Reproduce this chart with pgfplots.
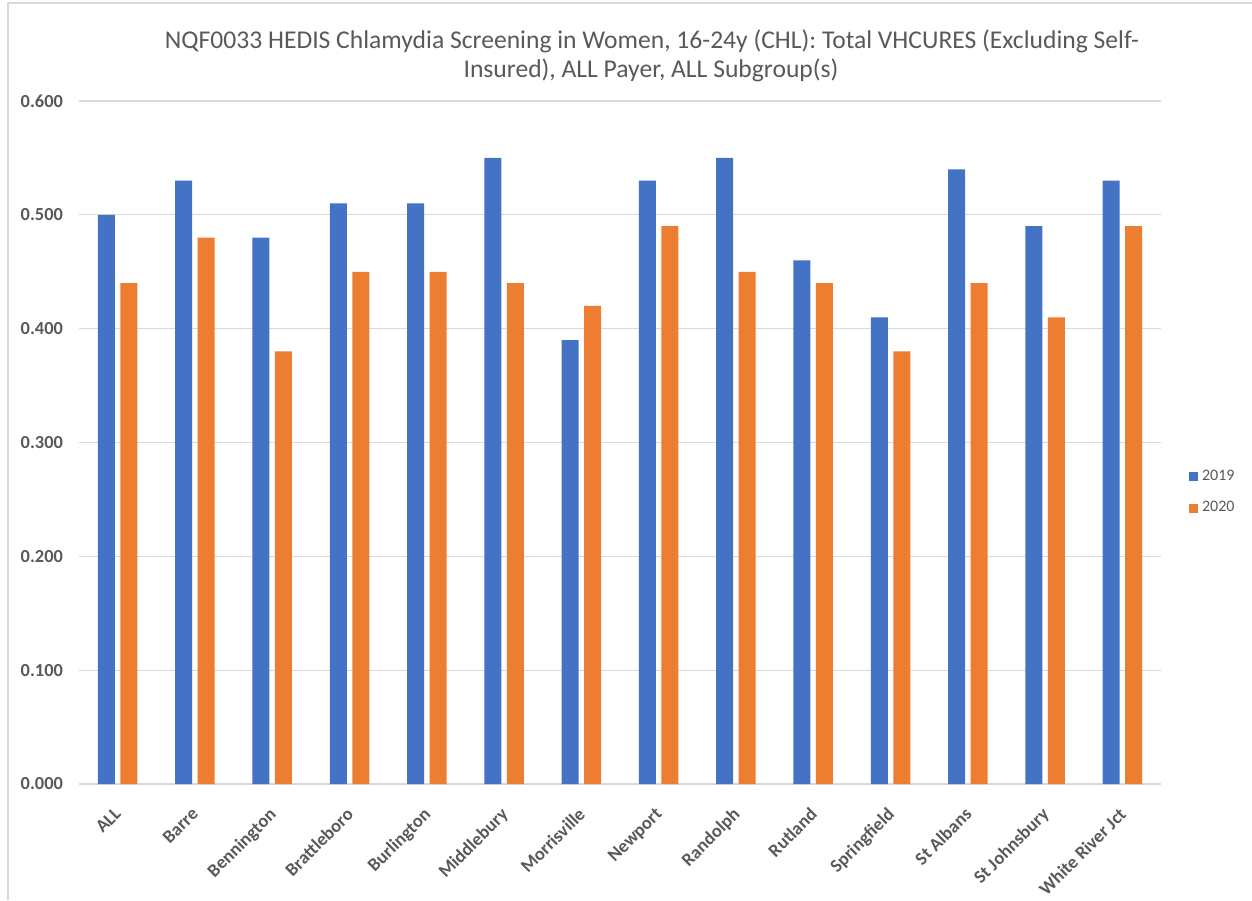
\documentclass[border=0pt]{standalone}
\usepackage{pgfplots}
\pgfplotsset{compat=1.18}
\usepackage{fontspec}
\setmainfont{Carlito}
\definecolor{cblue}{HTML}{4472C4}
\definecolor{corange}{HTML}{ED7D31}
\definecolor{tgray}{HTML}{595959}
\definecolor{ggray}{HTML}{D9D9D9}
\begin{document}
\begin{tikzpicture}
\useasboundingbox (0,0) rectangle (626pt,450pt);
\draw[ggray, line width=0.6pt] (4pt,0) -- (4pt,448.5pt) -- (626pt,448.5pt);
\node[text=tgray, font=\fontsize{12.8}{14}\selectfont] at (326pt,429.5pt) {NQF0033 HEDIS Chlamydia Screening in Women, 16-24y (CHL): Total VHCURES (Excluding Self-};
\node[text=tgray, font=\fontsize{12.8}{14}\selectfont] at (325.5pt,415pt) {Insured), ALL Payer, ALL Subgroup(s)};
\begin{axis}[
  at={(39.5pt,58pt)}, anchor=south west,
  scale only axis, width=541pt, height=341.5pt,
  xmin=-0.5, xmax=13.5, ymin=0, ymax=0.6,
  ybar=2.75pt, bar width=8.5pt,
  axis line style={draw=none},
  major tick length=0pt,
  ymajorgrids, grid style={ggray, line width=0.6pt},
  ytick={0,0.1,0.2,0.3,0.4,0.5,0.6},
  ticklabel style={font=\bfseries\fontsize{9.2}{10}\selectfont, text=tgray},
  yticklabel style={xshift=-4.5pt, /pgf/number format/.cd, fixed, fixed zerofill, precision=3, assume math mode=true},
  xtick={0,...,13},
  xticklabels={ALL,Barre,Bennington,Brattleboro,Burlington,Middlebury,Morrisville,Newport,Randolph,Rutland,Springfield,St Albans,St Johnsbury,White River Jct},
  xticklabel style={rotate=45, anchor=north east, inner sep=1pt, yshift=-5.3pt, xshift=-8.3pt, font=\bfseries\fontsize{9.2}{10}\selectfont},
  legend style={at={(1.02,0.427)}, anchor=west, draw=none, fill=none, font=\fontsize{8}{9.6}\selectfont, text=tgray, row sep=5pt, legend cell align=left},
  legend image code/.code={\fill[#1] (0pt,-2.25pt) rectangle (4.5pt,2.25pt);},
]
\addplot[fill=cblue, draw=none] coordinates {(0,0.50) (1,0.53) (2,0.48) (3,0.51) (4,0.51) (5,0.55) (6,0.39) (7,0.53) (8,0.55) (9,0.46) (10,0.41) (11,0.54) (12,0.49) (13,0.53)};
\addplot[fill=corange, draw=none] coordinates {(0,0.44) (1,0.48) (2,0.38) (3,0.45) (4,0.45) (5,0.44) (6,0.42) (7,0.49) (8,0.45) (9,0.44) (10,0.38) (11,0.44) (12,0.41) (13,0.49)};
\legend{2019,2020}
\end{axis}
\end{tikzpicture}
\end{document}
